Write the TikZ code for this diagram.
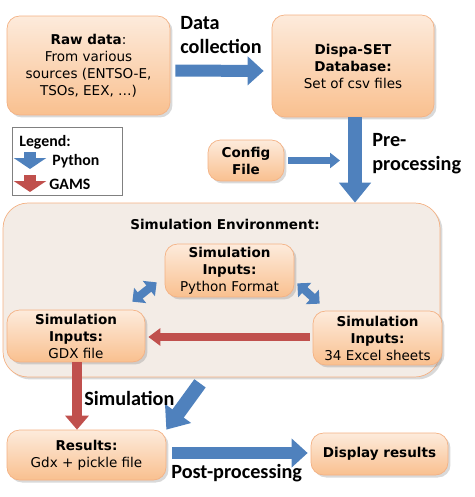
\documentclass[tikz,border=0pt]{standalone}
\usepackage{fontspec}
\setmainfont{DejaVu Sans}
\newfontfamily\lblfont{Carlito}
\usepackage{tikz}
\usetikzlibrary{arrows.meta, shadows}
\definecolor{boxtop}{HTML}{FDEBDC}
\definecolor{boxbot}{HTML}{F9C08F}
\definecolor{boxline}{HTML}{F4B183}
\definecolor{envfill}{HTML}{F3ECE6}
\definecolor{pyblue}{HTML}{4F81BD}
\definecolor{gamsred}{HTML}{C0504D}

\begin{document}
\begin{tikzpicture}[x=0.02cm, y=-0.02cm,
	box/.style={draw=boxline, rounded corners=0.25cm, top color=boxtop, bottom color=boxbot, align=center,
		font=\fontsize{7.7}{9.7}\selectfont, inner sep=1pt,
		drop shadow={opacity=0.3, shadow xshift=0.05cm, shadow yshift=-0.05cm}},
	lbl/.style={font=\lblfont\bfseries\fontsize{11.5}{13.7}\selectfont, align=left, inner sep=0pt},
	legtext/.style={font=\lblfont\bfseries\fontsize{9}{11}\selectfont, inner sep=0pt},
	pybig/.style={draw=pyblue, line width=0.28cm, -{Triangle[width=0.62cm, length=0.4cm]}},
	pyflat/.style={draw=pyblue, line width=0.24cm, -{Triangle[width=0.56cm, length=0.32cm]}},
	pythin/.style={draw=pyblue, line width=0.14cm, -{Triangle[width=0.3cm, length=0.2cm]}},
	pyboth/.style={draw=pyblue, line width=0.16cm, {Triangle[width=0.38cm, length=0.2cm]}-{Triangle[width=0.38cm, length=0.2cm]}},
	gamsarr/.style={draw=gamsred, line width=0.16cm, -{Triangle[width=0.34cm, length=0.24cm]}},
	gamsbig/.style={draw=gamsred, line width=0.2cm, -{Triangle[width=0.46cm, length=0.28cm]}}]
	\useasboundingbox (0,0) rectangle (474,497);

	% Kaesten oben
	\node[box, minimum width=3.26cm, minimum height=1.98cm] (raw) at (88.5,65.5)
		{\textbf{Raw data}:\\From various\\sources (ENTSO-E,\\TSOs, EEX, \dots)};
	\node[box, minimum width=3.24cm, minimum height=2.04cm] (db) at (353,66)
		{\textbf{Dispa-SET}\\\textbf{Database:}\\Set of csv files};
	\node[box, minimum width=1.52cm, minimum height=0.82cm] (cfg) at (246,160.5)
		{\textbf{Config}\\\textbf{File}};

	% Simulationsumgebung
	\node[draw=boxline, fill=envfill, rounded corners=0.5cm, minimum width=8.74cm, minimum height=3.48cm,
		drop shadow={opacity=0.3, shadow xshift=0.05cm, shadow yshift=-0.05cm}] (env) at (221.5,290) {};
	\node[font=\bfseries\fontsize{7.7}{9.7}\selectfont] (envtitle) at (225,224) {Simulation Environment:};
	\node[box, minimum width=2.58cm, minimum height=1.06cm] (py) at (229.5,270.5)
		{\textbf{Simulation}\\\textbf{Inputs:}\\Python Format};
	\node[box, minimum width=2.76cm, minimum height=1.04cm] (gdx) at (76,336)
		{\textbf{Simulation}\\\textbf{Inputs:}\\GDX file};
	\node[box, minimum width=2.58cm, minimum height=1.08cm] (xls) at (377.5,338)
		{\textbf{Simulation}\\\textbf{Inputs:}\\34 Excel sheets};

	% Kaesten unten
	\node[box, minimum width=3.18cm, minimum height=1.0cm] (res) at (86.5,455)
		{\textbf{Results:}\\Gdx + pickle file};
	\node[box, minimum width=2.74cm, minimum height=0.84cm] (disp) at (379.5,454)
		{\textbf{Display results}};

	% Legende
	\node[draw=gray, minimum width=2.2cm, minimum height=1.36cm, anchor=north west] (legend) at (12,127) {};
	\node[legtext, anchor=west] (legtitle) at (19,142) {Legend:};
	\node[legtext, anchor=west] (legpy) at (52,161) {Python};
	\node[legtext, anchor=west] (leggams) at (49,184) {GAMS};
	\draw[draw=pyblue, line width=0.24cm, -{Triangle[width=0.64cm, length=0.22cm]}] (30,152) -- (30,169);
	\draw[draw=gamsred, line width=0.24cm, -{Triangle[width=0.64cm, length=0.22cm]}] (30,175) -- (30,192);

	% Pfeile
	\draw[pyflat, shorten <=0.1cm, shorten >=0.16cm] ([yshift=-0.1cm]raw.east) -- ([yshift=-0.1cm]db.west);
	\draw[pybig] ([xshift=0.04cm]db.south) -- ([xshift=0.04cm]db.south |- env.north);
	\draw[pythin, shorten <=0.08cm, shorten >=0.26cm] (cfg.east) -- (cfg.east -| db.south);
	\draw[pyboth] ([xshift=-0.26cm, yshift=0.16cm]gdx.north east) -- ([xshift=-0.16cm, yshift=0.3cm]py.south west);
	\draw[pyboth] ([xshift=0.06cm, yshift=0.28cm]py.south east) -- ([xshift=0.14cm, yshift=0.14cm]xls.north west);
	\draw[gamsarr, shorten <=0.06cm, shorten >=0.06cm] ([yshift=0.02cm]xls.west) -- ([yshift=0.02cm]xls.west -| gdx.east);
	\draw[gamsbig] ([xshift=0.02cm]gdx.south) -- ([xshift=0.02cm]gdx.south |- res.north);
	\draw[pybig] ([xshift=-0.43cm, yshift=-0.12cm]env.south) -- (res.north east);
	\draw[pyflat, shorten <=0.12cm, shorten >=0.06cm] ([yshift=0.04cm]res.east) -- ([yshift=0.04cm]res.east -| disp.west);

	% Beschriftungen
	\node[lbl, anchor=north west] (dclbl) at (180,16) {Data\\collection};
	\node[lbl, anchor=north west] (pplbl) at (372,133) {Pre-\\processing};
	\node[lbl, anchor=north west] (simlbl) at (84,391) {Simulation};
	\node[lbl, anchor=north west] (postlbl) at (171,464) {Post-processing};
\end{tikzpicture}
\end{document}
